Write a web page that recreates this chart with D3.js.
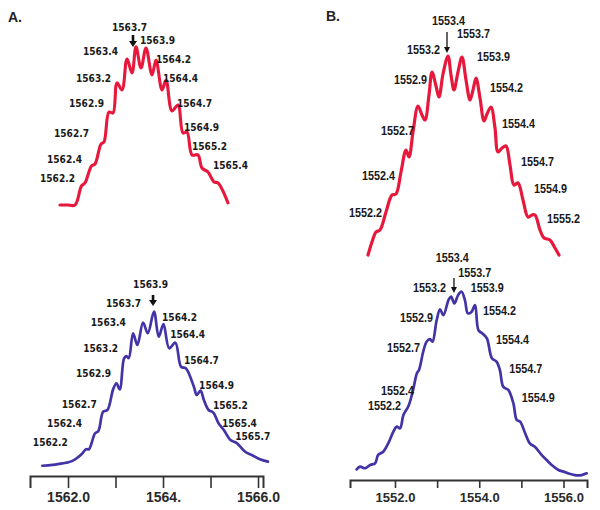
<!DOCTYPE html>
<html><head><meta charset="utf-8">
<script src="https://cdn.jsdelivr.net/npm/d3@7"></script>
<style>body{margin:0;background:#fff}</style>
</head><body><svg id="c" width="600" height="510"></svg>
<script>
// ---------- Panel A, top (red) ----------
const topA_mz = [1562.18,1562.33,1562.48,1562.61,1562.68,1562.81,1562.88,1563.00,1563.06,1563.16,1563.24,1563.32,1563.42,1563.52,1563.62,1563.70,1563.80,1563.90,1564.02,1564.10,1564.22,1564.30,1564.42,1564.54,1564.64,1564.72,1564.82,1564.94,1565.02,1565.14,1565.26,1565.34,1565.54];
const topA_int = [0,0,0,11.9,13.8,24.4,25.6,38.1,39.4,58.1,57.5,76.3,71.9,91.3,82.5,98.8,85.6,98.1,81.3,90.6,71.9,78.1,58.8,62.5,45,45.6,31.3,31.3,23.1,20.6,14.4,13.8,1.3];
const topA_labels = ["1563.7","1563.9","1563.4","1564.2","1563.2","1564.4","1562.9","1564.7","1562.7","1564.9","1562.4","1565.2","1562.2","1565.4"];
const topA_labelMz = [1563.22,1563.78,1562.64,1564.10,1562.50,1564.24,1562.36,1564.52,1562.06,1564.66,1561.92,1564.82,1561.78,1565.24];
const topA_labelInt = [108.75,100.6,93.75,88.75,76.9,76.9,61.25,61.25,42.5,46.25,26.25,34.4,14.4,22.5];
const topA_arrow = [1563.64,106.25,98.75];

// ---------- Panel B, top (red) ----------
const topB_mz = [1551.80,1551.88,1551.96,1552.04,1552.16,1552.28,1552.36,1552.46,1552.56,1552.62,1552.70,1552.80,1552.88,1552.94,1553.02,1553.08,1553.16,1553.22,1553.30,1553.40,1553.46,1553.52,1553.60,1553.68,1553.76,1553.84,1553.90,1553.96,1554.04,1554.12,1554.18,1554.26,1554.34,1554.40,1554.48,1554.56,1554.64,1554.72,1554.80,1554.90,1555.00,1555.08,1555.14,1555.24,1555.32,1555.44,1555.54,1555.62];
const topB_int = [0,6.5,11.5,12.5,21.5,30,30.5,41.5,52.5,49,61.5,74.5,70,67.5,80,91.5,84.5,79,90.5,99.5,90,82.5,91.5,99,87.5,77.5,82.5,88.5,78.5,67,70.5,74,63.5,51.5,53.5,54.5,45,35,36,27.5,19,20,20,12.5,8.5,7.5,3.5,0];
const topB_labels = ["1553.4","1553.7","1553.2","1553.9","1552.9","1554.2","1552.7","1554.4","1552.4","1554.7","1552.2","1554.9","1555.2"];
const topB_labelMz = [1553.08,1553.58,1552.58,1553.98,1552.32,1554.24,1552.06,1554.48,1551.68,1554.86,1551.42,1555.12,1555.38];
const topB_labelInt = [115,108.5,100.5,97,85.5,81.5,60,63.5,37.5,44.5,19,31,16];
const topB_arrow = [1553.38,111.5,101];

// ---------- Panel A, bottom (blue) ----------
const botA_mz = [1561.46,1561.67,1561.88,1562.01,1562.15,1562.29,1562.38,1562.44,1562.57,1562.64,1562.74,1562.83,1562.95,1563.02,1563.09,1563.18,1563.23,1563.28,1563.37,1563.46,1563.58,1563.68,1563.81,1563.91,1564.01,1564.13,1564.26,1564.38,1564.48,1564.65,1564.71,1564.79,1564.86,1564.96,1565.06,1565.17,1565.28,1565.42,1565.56,1565.73,1565.87,1566.04,1566.21];
const botA_int = [6.2,6.7,7.7,8.3,10.1,13.3,16.2,16.2,25.9,27.3,39.0,40.0,52.5,56.2,52.5,71.3,72.7,71.5,86.5,79.4,92.9,86.5,99.6,84.4,92.1,77.4,80.8,66.2,65.3,54.1,49.1,51.7,46.1,40,38.4,31.9,27.9,21.8,19.8,14.7,12.7,10.1,8.7];
const botA_labels = ["1563.9","1563.7","1564.2","1563.4","1564.4","1563.2","1564.7","1562.9","1564.9","1562.7","1565.2","1562.4","1565.4","1565.7","1562.2"];
const botA_labelMz = [1563.37,1562.80,1563.98,1562.48,1564.15,1562.32,1564.44,1562.17,1564.76,1561.87,1565.05,1561.56,1565.24,1565.52,1561.26];
const botA_labelInt = [113.9,102.4,93.9,90.9,83.6,75.2,67.9,60,52.7,41.2,40.6,29.7,29.9,21.6,18.2];
const botA_arrow = [1563.79,109.7,103.0];
const axisA_ticks = [1562,1563,1564,1565,1566];
const axisA_labels = ["1562.0","","1564.","","1566.0"];

// ---------- Panel B, bottom (blue) ----------
const botB_mz = [1551.09,1551.17,1551.29,1551.41,1551.53,1551.60,1551.72,1551.84,1551.96,1552.04,1552.12,1552.20,1552.32,1552.43,1552.52,1552.57,1552.67,1552.75,1552.83,1552.89,1552.99,1553.07,1553.15,1553.27,1553.33,1553.41,1553.50,1553.58,1553.66,1553.73,1553.82,1553.90,1553.98,1554.07,1554.18,1554.30,1554.41,1554.49,1554.57,1554.69,1554.81,1554.89,1554.97,1555.09,1555.20,1555.32,1555.48,1555.60,1555.72,1555.88,1556.00,1556.11,1556.27,1556.43,1556.55];
const botB_int = [5.6,7.0,6.2,7.9,8.8,13.2,14.9,19.3,25.4,28.1,27.2,34.2,38.9,47.4,56.2,57.9,67.5,72.8,74.1,72.8,84.2,89.8,86.8,94.7,96.5,93.0,97.4,99.1,94.7,87.7,88.6,92.1,78.9,77.2,74.6,64.1,62.3,57.9,49.1,47.4,40.4,31.6,30.7,24.6,19.3,17.5,13.2,10.5,7.9,5.3,4.4,3.5,2.6,2.6,3.5];
const botB_labels = ["1553.4","1553.7","1553.2","1553.9","1552.9","1554.2","1552.7","1554.4","1554.7","1552.4","1552.2","1554.9"];
const botB_labelMz = [1552.97,1553.50,1552.43,1553.80,1552.12,1554.09,1551.81,1554.40,1554.71,1551.67,1551.36,1555.01];
const botB_labelInt = [114.7,106.8,98.9,98.9,83.2,86.8,67.4,71.6,56.3,44.7,36.8,41.1];
const botB_arrow = [1553.40,106.3,98.4];
const axisB_ticks = [1552,1553,1554,1555,1556];
const axisB_labels = ["1552.0","","1554.0","","1556.0"];

const panelTitles = ["A.","B."];

// ---------- drawing ----------
const svg = d3.select("#c");
const RED = "#e8173c", BLUE = "#4234a6";

function drawPanel(p) {
  const g = svg.append("g");
  const pts = p.mz.map((m, i) => [m, p.int[i]]);
  const line = d3.line().x(d => p.x(d[0])).y(d => p.y(d[1])).curve(d3.curveCatmullRom.alpha(0.5));
  g.append("path").datum(pts).attr("d", line)
    .attr("fill", "none").attr("stroke", p.color).attr("stroke-width", p.sw)
    .attr("stroke-linejoin", "round").attr("stroke-linecap", "round");

  g.selectAll("text.lab").data(p.labels).join("text").attr("class", "lab")
    .attr("x", (d, i) => p.x(p.labelMz[i]))
    .attr("y", (d, i) => p.y(p.labelInt[i]))
    .attr("font-family", p.font).attr("font-weight", "bold")
    .attr("font-size", p.fs).attr("fill", "#1a1a1a")
    .attr("textLength", p.tl).attr("lengthAdjust", "spacingAndGlyphs")
    .text(d => d);

  // arrow
  const ax = p.x(p.arrow[0]), y1 = p.y(p.arrow[1]), y2 = p.y(p.arrow[2]);
  g.append("line").attr("x1", ax).attr("x2", ax).attr("y1", y1).attr("y2", y2 - p.ah + 1)
    .attr("stroke", "#111").attr("stroke-width", p.aw);
  g.append("path").attr("d", `M${ax - p.ahw},${y2 - p.ah} L${ax + p.ahw},${y2 - p.ah} L${ax},${y2} Z`)
    .attr("fill", "#111");

  if (p.ticks) {
    const axisG = g.append("g").attr("transform", `translate(0,${p.y(0)})`)
      .call(d3.axisBottom(p.x).tickValues(p.ticks).tickFormat((d, i) => p.tickLabels[i])
        .tickSizeOuter(0).tickSize(p.tickSize).tickPadding(p.tickPad));
    axisG.select(".domain").attr("stroke", "#333").attr("stroke-width", 2);
    axisG.selectAll(".tick line").attr("stroke", "#333").attr("stroke-width", 1.6);
    axisG.selectAll(".tick text").attr("font-family", "Liberation Sans, Arial, sans-serif")
      .attr("font-weight", "bold").attr("font-size", p.tickFs).attr("fill", "#2a2a2a");
  }
}

const fontA = "DejaVu Sans, Verdana, sans-serif";
const fontB = "Liberation Sans, Arial, sans-serif";

drawPanel({mz: topA_mz, int: topA_int, labels: topA_labels, labelMz: topA_labelMz, labelInt: topA_labelInt,
  arrow: topA_arrow, x: d3.scaleLinear([1562, 1566], [51, 251]), y: d3.scaleLinear([0, 100], [205, 45]),
  color: RED, sw: 3.1, font: fontA, fs: 10.5, tl: 35, aw: 2.6, ah: 6, ahw: 4});

drawPanel({mz: topB_mz, int: topB_int, labels: topB_labels, labelMz: topB_labelMz, labelInt: topB_labelInt,
  arrow: topB_arrow, x: d3.scaleLinear([1551, 1556], [328, 578]), y: d3.scaleLinear([0, 100], [255, 55]),
  color: RED, sw: 3.2, font: fontB, fs: 12, tl: 33, aw: 1.3, ah: 6, ahw: 3});

drawPanel({mz: botA_mz, int: botA_int, labels: botA_labels, labelMz: botA_labelMz, labelInt: botA_labelInt,
  arrow: botA_arrow, x: d3.scaleLinear([1561.2, 1566.105], [30, 263]), y: d3.scaleLinear([0, 100], [476, 311]),
  color: BLUE, sw: 2.7, font: fontA, fs: 10.5, tl: 35, aw: 2.6, ah: 6, ahw: 4,
  ticks: axisA_ticks, tickLabels: axisA_labels, tickSize: 12, tickPad: 4, tickFs: 14});

drawPanel({mz: botB_mz, int: botB_int, labels: botB_labels, labelMz: botB_labelMz, labelInt: botB_labelInt,
  arrow: botB_arrow, x: d3.scaleLinear([1550.932, 1556.558], [350, 587]), y: d3.scaleLinear([0, 100], [480, 290]),
  color: BLUE, sw: 2.7, font: fontB, fs: 12, tl: 33, aw: 1.3, ah: 6, ahw: 3,
  ticks: axisB_ticks, tickLabels: axisB_labels, tickSize: 8, tickPad: 5, tickFs: 13});

svg.selectAll("text.title").data(panelTitles).join("text").attr("class", "title")
  .attr("x", (d, i) => i === 0 ? 8 : 326).attr("y", (d, i) => i === 0 ? 22 : 21)
  .attr("font-family", "Liberation Sans, Arial, sans-serif").attr("font-weight", "bold")
  .attr("font-size", 14).attr("fill", "#222").text(d => d);
</script></body></html>
